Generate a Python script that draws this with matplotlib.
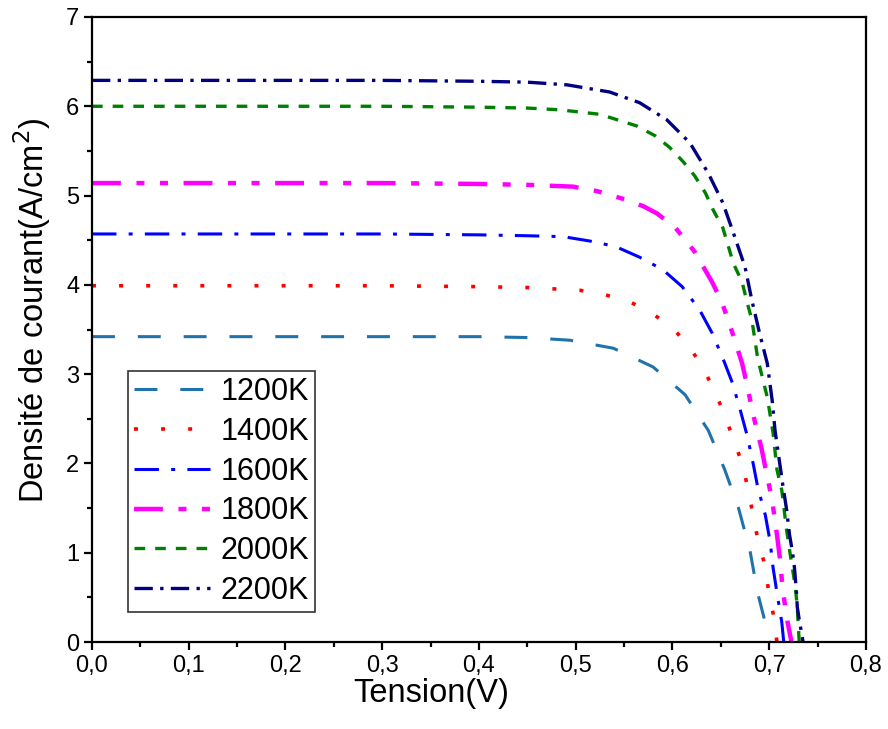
import matplotlib
matplotlib.use("Agg")
import matplotlib.pyplot as plt
from matplotlib.ticker import MultipleLocator, FuncFormatter

plt.rcParams['font.family'] = ['Liberation Sans', 'DejaVu Sans']

# values
labels = ['1200K', '1400K', '1600K', '1800K', '2000K', '2200K']

v_1200 = [0.0, 0.1, 0.2, 0.3, 0.4, 0.45, 0.494, 0.539, 0.580, 0.613, 0.637, 0.654, 0.668,
          0.680, 0.688, 0.698, 0.700]
j_1200 = [3.42, 3.42, 3.42, 3.42, 3.42, 3.41, 3.38, 3.29, 3.08, 2.77, 2.37, 1.93, 1.51,
          1.03, 0.55, 0.13, 0.0]

v_1400 = [0.0, 0.1, 0.2, 0.3, 0.4, 0.45, 0.504, 0.530, 0.556, 0.579, 0.600, 0.618, 0.632,
          0.644, 0.654, 0.663, 0.672, 0.678, 0.683, 0.688, 0.695, 0.699, 0.704, 0.708]
j_1400 = [3.99, 3.99, 3.99, 3.99, 3.98, 3.97, 3.94, 3.89, 3.81, 3.68, 3.52, 3.30, 3.06,
          2.80, 2.54, 2.27, 2.00, 1.72, 1.44, 1.16, 0.88, 0.60, 0.32, 0.0]

v_1600 = [0.0, 0.1, 0.2, 0.3, 0.4, 0.45, 0.487, 0.515, 0.541, 0.566, 0.590, 0.610, 0.628,
          0.641, 0.652, 0.662, 0.670, 0.677, 0.683, 0.688, 0.696, 0.701, 0.704, 0.708,
          0.713, 0.715]
j_1600 = [4.57, 4.57, 4.57, 4.57, 4.56, 4.55, 4.54, 4.49, 4.43, 4.31, 4.17, 3.98, 3.72,
          3.46, 3.18, 2.90, 2.60, 2.32, 2.02, 1.74, 1.42, 1.12, 0.83, 0.55, 0.22, 0.0]

v_1800 = [0.0, 0.1, 0.2, 0.3, 0.4, 0.45, 0.497, 0.522, 0.553, 0.570, 0.584, 0.603, 0.623,
          0.641, 0.651, 0.662, 0.672, 0.677, 0.684, 0.692, 0.697, 0.703, 0.708, 0.711,
          0.714, 0.719, 0.723]
j_1800 = [5.14, 5.14, 5.14, 5.14, 5.13, 5.12, 5.10, 5.05, 4.95, 4.88, 4.80, 4.64, 4.37,
          4.03, 3.81, 3.46, 3.12, 2.88, 2.52, 2.17, 1.90, 1.59, 1.20, 0.94, 0.58, 0.22, 0.0]

v_2000 = [0.0, 0.1, 0.2, 0.3, 0.4, 0.45, 0.484, 0.525, 0.563, 0.582, 0.597, 0.611, 0.623,
          0.634, 0.642, 0.652, 0.663, 0.672, 0.677, 0.682, 0.685, 0.688, 0.698, 0.704,
          0.708, 0.713, 0.718, 0.721, 0.727, 0.729, 0.731]
j_2000 = [6.00, 6.00, 6.00, 6.00, 5.99, 5.98, 5.96, 5.91, 5.78, 5.67, 5.54, 5.38, 5.22,
          5.03, 4.84, 4.64, 4.24, 4.03, 3.81, 3.61, 3.40, 3.18, 2.74, 2.34, 1.93, 1.70,
          1.25, 1.03, 0.62, 0.39, 0.0]

v_2200 = [0.0, 0.1, 0.2, 0.3, 0.4, 0.45, 0.491, 0.535, 0.566, 0.594, 0.618, 0.637, 0.652,
          0.663, 0.675, 0.682, 0.690, 0.698, 0.703, 0.706, 0.714, 0.718, 0.721, 0.724,
          0.726, 0.728, 0.729, 0.731, 0.735]
j_2200 = [6.29, 6.29, 6.29, 6.29, 6.28, 6.27, 6.24, 6.16, 6.04, 5.85, 5.59, 5.25, 4.92,
          4.58, 4.20, 3.83, 3.46, 3.12, 2.71, 2.37, 1.76, 1.48, 1.20, 1.01, 0.84, 0.58,
          0.39, 0.25, 0.0]

voltages = [v_1200, v_1400, v_1600, v_1800, v_2000, v_2200]
currents = [j_1200, j_1400, j_1600, j_1800, j_2000, j_2200]

colors = ['#1f72aa', '#ff0000', '#0000ff', '#ff00ff', '#008000', '#000080']
widths = [2.2, 2.6, 2.2, 3.2, 2.4, 2.4]
dashes = [(7.5, 7.5), (1.1, 6.4), (8, 4, 1.3, 4), (6.5, 3.5, 1.8, 3.5, 1.8, 3.5),
          (3.2, 3.0), (5.5, 2.2, 1.0, 2.2)]

fig = plt.figure(figsize=(8.88, 7.29), dpi=100)
ax = fig.add_axes([0.1036, 0.1193, 0.8716, 0.8574])

for v, j, lab, c, w, d in zip(voltages, currents, labels, colors, widths, dashes):
    ax.plot(v, j, color=c, lw=w, dashes=d, label=lab)

ax.set_xlim(0, 0.8)
ax.set_ylim(0, 7)
ax.xaxis.set_major_locator(MultipleLocator(0.1))
ax.xaxis.set_minor_locator(MultipleLocator(0.05))
ax.yaxis.set_major_locator(MultipleLocator(1))
ax.yaxis.set_minor_locator(MultipleLocator(0.5))
ax.xaxis.set_major_formatter(FuncFormatter(lambda x, p: f"{x:.1f}".replace('.', ',')))
ax.yaxis.set_major_formatter(FuncFormatter(lambda y, p: f"{y:.0f}"))

ax.tick_params(which='major', direction='out', length=6, width=1.6, labelsize=17, pad=3)
ax.tick_params(which='minor', direction='out', length=3.5, width=1.6)
for s in ax.spines.values():
    s.set_linewidth(1.6)

ax.set_xlabel('Tension(V)', fontsize=23.5)
ax.set_ylabel('Densité de courant(A/cm$^2$)', fontsize=23.5)
ax.xaxis.set_label_coords(0.438, -0.058)
ax.yaxis.set_label_coords(-0.05, 0.531)

leg = ax.legend(loc='lower left', bbox_to_anchor=(0.0465, 0.048), borderaxespad=0,
                fontsize=22, handlelength=2.5, handletextpad=0.33, labelspacing=0.32,
                borderpad=0.2, fancybox=False, framealpha=1)
leg.get_frame().set_edgecolor('#333333')
leg.get_frame().set_linewidth(1.2)

fig.savefig('out.png', dpi=100)
